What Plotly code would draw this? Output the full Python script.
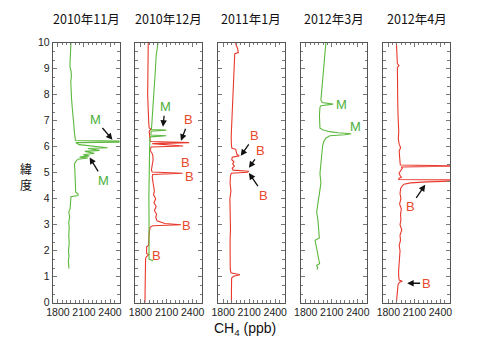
import plotly.graph_objects as go

titles = ["2010年11月", "2010年12月", "2011年1月", "2012年3月", "2012年4月"]
y_title = "緯<br>度"

# 2010年11月 (green)
nov10_lat = [10.0, 9.6, 9.1, 8.9, 8.7, 8.5, 8.2, 7.8, 7.5, 7.2, 6.9, 6.6, 6.35, 6.24, 6.21, 6.18, 6.16, 6.08,
             5.96, 5.93, 5.86, 5.82, 5.75, 5.69, 5.65, 5.60, 5.57, 5.52, 5.45, 5.34, 5.1, 4.8, 4.5, 4.25,
             4.18, 4.12, 4.08, 3.9, 3.6, 3.5, 3.3, 3.1, 2.9, 2.6, 2.3, 2.0, 1.8, 1.6, 1.4, 1.32]
nov10_ch4 = [1950, 1945, 1938, 1952, 1955, 1948, 1950, 1958, 1965, 1976, 1982, 1988, 1995, 2002, 2650, 2650, 2005, 2045,
             2372, 2145, 2280, 2110, 2220, 2090, 2160, 2050, 2145, 2030, 2010, 1990, 1995, 2000, 1998, 2005,
             2032, 2030, 1950, 1948, 1940, 1925, 1935, 1925, 1930, 1925, 1930, 1922, 1928, 1920, 1925, 1927]

# 2010年12月 (red)
dec10_red_lat = [10, 9.5, 9, 8.5, 8, 7.5, 7.1, 6.9, 6.72, 6.68, 6.6, 6.4, 6.25, 6.2, 6.16, 6.12, 6.07, 6.03, 5.99,
                 5.92, 5.85, 5.7, 5.5, 5.3, 5.1, 5.03, 4.98, 4.93, 4.85, 4.6, 4.4, 4.3, 4.15, 4.0, 3.85, 3.7, 3.55,
                 3.4, 3.3, 3.15, 3.05, 3.0, 2.96, 2.9, 2.7, 2.4, 2.2, 2.15, 2.0, 1.9, 1.85, 1.78, 1.7, 1.3, 0.9, 0.5, 0]
dec10_red_ch4 = [1889, 1885, 1882, 1884, 1882, 1885, 1889, 1895, 1900, 1920, 1900, 1905, 1910, 1920, 2360, 1935, 2200, 2290, 1925,
                 1910, 1915, 1940, 1945, 1935, 1925, 1935, 2285, 1940, 1935, 1945, 1950, 1960, 1950, 1975, 1955, 1980, 1960,
                 1985, 1975, 1990, 2080, 2266, 1940, 1910, 1900, 1895, 1892, 1870, 1865, 1870, 1895, 1870, 1858, 1855, 1852, 1855, 1851]
# 2010年12月 (green)
dec10_grn_lat = [10, 9.5, 9.0, 8.5, 8.0, 7.5, 7.08, 6.71, 6.66, 6.64, 6.60, 6.45, 6.42, 6.38, 6.33, 5.8, 5.2, 4.6,
                 4.0, 3.4, 2.8, 2.2, 1.8, 1.68, 1.62]
dec10_grn_ch4 = [2002, 1980, 1972, 1962, 1957, 1945, 1934, 1926, 1926, 2096, 1922, 1919, 2096, 1915, 1908, 1904, 1900, 1898,
                 1896, 1898, 1896, 1897, 1896, 1898, 1945]

# 2011年1月 (red)
jan11_lat = [10, 9.9, 9.8, 9.7, 9.62, 9.58, 9.3, 9.0, 8.6, 8.3, 8.0, 7.6, 7.2, 6.8, 6.4, 6.1, 5.95, 5.9, 5.82, 5.7,
             5.65, 5.6, 5.5, 5.42, 5.35, 5.25, 5.18, 5.1, 5.06, 5.02, 4.98, 4.9, 4.6, 4.3, 4.0, 3.6, 3.2, 2.8, 2.4,
             2.0, 1.6, 1.3, 1.15, 1.08, 1.02, 0.95, 0.5, 0]
jan11_ch4 = [1945, 1950, 1965, 1970, 1975, 1934, 1930, 1925, 1922, 1918, 1912, 1905, 1900, 1895, 1893, 1895, 1900, 1945, 1950, 1960,
             1985, 1905, 1900, 1925, 1910, 1930, 1905, 1915, 2096, 2080, 1895, 1885, 1880, 1890, 1878, 1882, 1880, 1885, 1880,
             1878, 1880, 1882, 1890, 1994, 1920, 1898, 1896, 1896]

# 2012年3月 (green)
mar12_lat = [10, 9.5, 9.06, 8.7, 8.44, 8.1, 7.95, 7.8, 7.7, 7.64, 7.58, 7.52, 7.2, 6.9, 6.71, 6.64, 6.58, 6.54,
             6.50, 6.46, 6.42, 6.33, 6.21, 6.02, 5.71, 5.34, 4.97, 4.6, 4.35, 4.1, 3.8, 3.48, 3.2, 2.87, 2.6, 2.49,
             2.4, 2.12, 1.9, 1.75, 1.55, 1.5, 1.44, 1.35, 1.28]
mar12_ch4 = [2032, 2020, 2009, 2000, 1994, 1990, 1983, 1975, 1990, 2115, 1975, 1964, 1958, 1960, 1964, 2002, 2077, 2172,
             2323, 2250, 2077, 2032, 2009, 1994, 1983, 1972, 1964, 1975, 1964, 1950, 1945, 1926, 1940, 1945, 1950, 1957,
             1908, 1926, 1935, 1945, 1957, 1960, 1926, 1938, 1930]

# 2012年4月 (red)
apr12_lat = [10, 9.5, 9.2, 9.12, 9.05, 8.6, 8.2, 7.8, 7.2, 6.9, 6.6, 6.3, 6.1, 5.96, 5.85, 5.6, 5.4, 5.3, 5.26,
             5.22, 5.17, 5.08, 4.98, 4.9, 4.83, 4.79, 4.74, 4.72, 4.68, 4.65, 4.61, 4.56, 4.5, 4.4, 4.2, 4.0, 3.8,
             3.6, 3.4, 3.2, 3.0, 2.8, 2.6, 2.4, 2.2, 2.0, 1.8, 1.6, 1.4, 1.2, 1.0, 0.87, 0.83, 0.79, 0.7, 0.4, 0]
apr12_ch4 = [1893, 1897, 1904, 1923, 1904, 1906, 1904, 1908, 1912, 1916, 1920, 1915, 1925, 1942, 1925, 1930, 1935, 1938, 2700,
             1950, 1961, 1942, 1923, 1935, 1950, 1925, 1920, 2700, 2600, 2244, 2055, 1980, 1961, 1942, 1935, 1945, 1930,
             1950, 1940, 1945, 1935, 1955, 1935, 1940, 1925, 1935, 1930, 1925, 1920, 1918, 1920, 1925, 1961, 1930, 1912, 1904, 1893]

y_ticks = list(range(0, 11))
x_ticks = [1800, 2100, 2400]
x_range = [1740, 2510]

GREEN = "#5cb83c"
RED = "#e8382c"
TXT_G = "#4caf3a"
TXT_R = "#e8482c"

series = [
    (0, nov10_lat, nov10_ch4, GREEN),
    (1, dec10_red_lat, dec10_red_ch4, RED),
    (1, dec10_grn_lat, dec10_grn_ch4, GREEN),
    (2, jan11_lat, jan11_ch4, RED),
    (3, mar12_lat, mar12_ch4, GREEN),
    (4, apr12_lat, apr12_ch4, RED),
]

fig = go.Figure()
for idx, lat, ch4, col in series:
    ax = "" if idx == 0 else str(idx + 1)
    fig.add_trace(go.Scatter(x=ch4, y=lat, mode="lines", line=dict(color=col, width=1.1),
                             xaxis="x" + ax, yaxis="y" + ax, showlegend=False, hoverinfo="skip"))

W, H = 480, 360
y0, y1 = 53 / H, 322 / H
layout = dict(width=W, height=H, margin=dict(l=0, r=0, t=0, b=0),
              plot_bgcolor="white", paper_bgcolor="white",
              font=dict(family="Liberation Sans Narrow, Liberation Sans, Arial, sans-serif", size=10, color="#222"))
for i in range(5):
    s = "" if i == 0 else str(i + 1)
    left = (47.5 + 84 * i) / W
    right = (115.5 + 84 * i) / W
    layout["xaxis" + s] = dict(domain=[left, right], range=x_range, tickvals=x_ticks,
                               ticks="inside", ticklen=4, tickcolor="#777", showline=True, linecolor="#555",
                               linewidth=1, mirror="ticks", showgrid=False, zeroline=False,
                               minor=dict(dtick=50, tick0=1800, ticks="inside", ticklen=2.5, tickcolor="#777"),
                               anchor="y" + s, tickfont=dict(size=10.5))
    layout["yaxis" + s] = dict(domain=[y0, y1], range=[0, 10], tickvals=y_ticks,
                               showticklabels=(i == 0),
                               ticks="inside", ticklen=4, tickcolor="#777", showline=True, linecolor="#555",
                               linewidth=1, mirror="ticks", showgrid=False, zeroline=False,
                               minor=dict(dtick=1 / 3, tick0=0, ticks="inside", ticklen=2.5, tickcolor="#777"),
                               anchor="x" + s, tickfont=dict(size=10.5))
fig.update_layout(**layout)

ann = []
for i, t in enumerate(titles):
    cx = (81.5 + 84 * i) / W
    ann.append(dict(text=t, x=cx, y=1 - 13 / H, xref="paper", yref="paper", showarrow=False,
                    font=dict(family="Noto Sans CJK JP", size=12.5, color="#111"), xanchor="center", yanchor="middle"))
ann.append(dict(text=y_title, x=20 / W, y=1 - 176 / H, xref="paper", yref="paper", showarrow=False,
                font=dict(family="Noto Sans CJK JP", size=12, color="#111"), xanchor="center", yanchor="middle",
                borderpad=0))
ann.append(dict(text="CH<sub>4</sub> (ppb)", x=243 / W, y=1 - 334 / H, xref="paper", yref="paper", showarrow=False,
                font=dict(family="Liberation Sans, Arial, sans-serif", size=14, color="#111"),
                xanchor="center", yanchor="middle"))

# arrow labels: (panel, text, head_x, head_y, ax, ay, colour)
arrow_labels = [
    (0, "M", 2428, 6.27, -17, -20, TXT_G),
    (0, "M", 2165, 5.59, 14, 23, TXT_G),
    (1, "M", 2059, 6.77, 2, -20, TXT_G),
    (1, "B", 2266, 6.23, 8, -21, TXT_R),
    (1, "B", 2097, 6.02, 19, 16, TXT_R),
    (2, "B", 2003, 5.65, 14, -20, TXT_R),
    (2, "B", 2097, 5.19, 12, -17, TXT_R),
    (2, "B", 2097, 4.99, 15, 22, TXT_R),
    (4, "B", 2225, 4.54, -15, 22, TXT_R),
    (4, "B", 2017, 0.75, 19, 0, TXT_R),
]
for p, t, hx, hy, dx, dy, c in arrow_labels:
    s = "" if p == 0 else str(p + 1)
    ann.append(dict(text=t, x=hx, y=hy, xref="x" + s, yref="y" + s, showarrow=True, ax=dx, ay=dy,
                    arrowhead=2, arrowsize=1, arrowwidth=1.3, arrowcolor="#111", standoff=0,
                    font=dict(family="Liberation Sans, Arial, sans-serif", size=13, color=c)))

# plain labels: (panel, text, x, y, colour)
plain_labels = [
    (1, "B", 2360, 4.84, TXT_R),
    (1, "B", 2335, 2.99, TXT_R),
    (1, "B", 1983, 1.81, TXT_R),
    (3, "M", 2210, 7.63, TXT_G),
    (3, "M", 2372, 6.77, TXT_G),
]
for p, t, lx, ly, c in plain_labels:
    s = "" if p == 0 else str(p + 1)
    ann.append(dict(text=t, x=lx, y=ly, xref="x" + s, yref="y" + s, showarrow=False,
                    font=dict(family="Liberation Sans, Arial, sans-serif", size=13, color=c)))

fig.update_layout(annotations=ann)
fig.write_html("out.html", config={"displayModeBar": False},
               post_script="document.body.style.margin='0';document.body.style.padding='0';")
